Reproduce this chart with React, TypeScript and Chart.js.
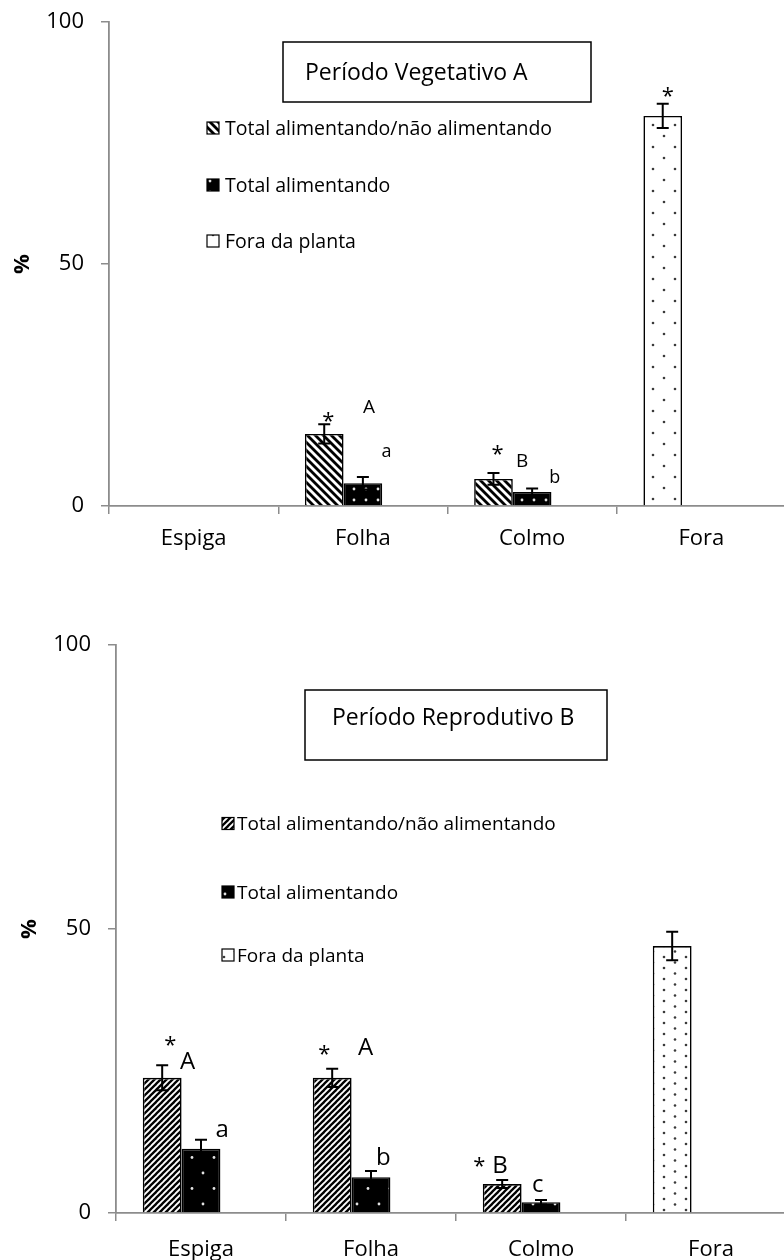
import React, { useEffect, useRef } from 'react';
import { Chart, registerables } from 'chart.js';

Chart.register(...registerables);

const FONT = "'Open Sans', 'DejaVu Sans', sans-serif";
const AXIS = '#8c8c8c';

// ---------- shared data ----------
const categories = ['Espiga', 'Folha', 'Colmo', 'Fora'];
const seriesLabels = ['Total alimentando/não alimentando', 'Total alimentando', 'Fora da planta'];
const yTickValues = [0, 50, 100];
const yAxisTitle = '%';

// ---------- Período Vegetativo A ----------
const vegTitle = 'Período Vegetativo A';
const vegTotal = [0, 14.9, 5.6, null];
const vegTotalErr = [0, 2.0, 1.2, null];
const vegFeeding = [0, 4.7, 2.9, null];
const vegFeedingErr = [0, 1.3, 0.7, null];
const vegOutside = [null, null, null, 80.6];
const vegOutsideErr = [null, null, null, 2.5];
const vegMarkText = ['*', 'A', 'a', '*', 'B', 'b', '*'];
const vegMarkCat = [1, 1, 1, 2, 2, 2, 3];
const vegMarkValue = [18.4, 20.5, 11.2, 11.6, 9.5, 6.3, 85.5];

// ---------- Período Reprodutivo B ----------
const repTitle = 'Período Reprodutivo B';
const repTotal = [23.8, 23.8, 5.1, null];
const repTotalErr = [2.2, 1.6, 0.7, null];
const repFeeding = [11.3, 6.3, 1.9, null];
const repFeedingErr = [1.6, 1.1, 0.4, null];
const repOutside = [null, null, null, 47.0];
const repOutsideErr = [null, null, null, 2.5];
const repMarkText = ['*', 'A', 'a', '*', 'A', 'b', '*', 'B', 'c'];
const repMarkCat = [0, 0, 0, 1, 1, 1, 2, 2, 2];
const repMarkValue = [30.3, 26.9, 14.6, 28.7, 29.4, 10.0, 9.0, 8.6, 4.9];

// ---------- styles (positions / sizes of decorations) ----------
const vegMarkStyle = [
  { slot: 0, dx: 4, size: 22 },
  { slot: 1, dx: 6, size: 19 },
  { slot: 1, dx: 23, size: 18 },
  { slot: 0, dx: 4, size: 22 },
  { slot: 0, dx: 29, size: 19 },
  { slot: 1, dx: 23, size: 18 },
  { slot: 0, dx: 5, size: 22 },
];
const repMarkStyle = [
  { slot: 0, dx: 8, size: 22 },
  { slot: 1, dx: -13, size: 24 },
  { slot: 1, dx: 21, size: 24 },
  { slot: 0, dx: -8, size: 22 },
  { slot: 1, dx: -5, size: 24 },
  { slot: 1, dx: 13, size: 24 },
  { slot: 0, dx: -23, size: 22 },
  { slot: 0, dx: -1.5, size: 24 },
  { slot: 1, dx: -3, size: 24 },
];

function makePattern(w: number, h: number, draw: (c: CanvasRenderingContext2D) => void) {
  const cv = document.createElement('canvas');
  cv.width = w;
  cv.height = h;
  const c = cv.getContext('2d')!;
  draw(c);
  return c.createPattern(cv, 'repeat')!;
}

function hatchPattern(period: number, width: number, back: boolean) {
  return makePattern(period, period, (c) => {
    c.fillStyle = '#fff';
    c.fillRect(0, 0, period, period);
    c.strokeStyle = '#000';
    c.lineWidth = width;
    c.lineCap = 'square';
    for (let k = -1; k <= 1; k++) {
      c.beginPath();
      if (back) {
        c.moveTo(k * period - 1, -1);
        c.lineTo(k * period + period + 1, period + 1);
      } else {
        c.moveTo(k * period - 1, period + 1);
        c.lineTo(k * period + period + 1, -1);
      }
      c.stroke();
    }
  });
}

function dotPattern(w: number, h: number, bg: string, fg: string, dots: number[][], r: number) {
  return makePattern(w, h, (c) => {
    c.fillStyle = bg;
    c.fillRect(0, 0, w, h);
    c.fillStyle = fg;
    dots.forEach(([x, y]) => {
      c.beginPath();
      c.arc(x, y, r, 0, Math.PI * 2);
      c.fill();
    });
  });
}

function drawCentered(ctx: CanvasRenderingContext2D, text: string, cx: number, cy: number, font: string) {
  ctx.font = font;
  ctx.textAlign = 'left';
  ctx.textBaseline = 'alphabetic';
  const m = ctx.measureText(text);
  const x = cx - (m.actualBoundingBoxRight - m.actualBoundingBoxLeft) / 2;
  const y = cy + (m.actualBoundingBoxAscent - m.actualBoundingBoxDescent) / 2;
  ctx.fillText(text, x, y);
}

function drawCapLeft(ctx: CanvasRenderingContext2D, text: string, x: number, cy: number, font: string) {
  ctx.font = font;
  ctx.textAlign = 'left';
  ctx.textBaseline = 'alphabetic';
  const cap = ctx.measureText('H').actualBoundingBoxAscent;
  ctx.fillText(text, x, cy + cap / 2);
}

type PanelCfg = {
  title: string;
  total: (number | null)[];
  totalErr: (number | null)[];
  feeding: (number | null)[];
  feedingErr: (number | null)[];
  outside: (number | null)[];
  outsideErr: (number | null)[];
  markText: string[];
  markCat: number[];
  markValue: number[];
  markStyle: { slot: number; dx: number; size: number }[];
  backHatch: boolean;
  hatchPeriod: number;
  hatchWidth: number;
  blackDots: { w: number; h: number; dots: number[][] };
  outDots: { w: number; h: number; dots: number[][] };
  padTop: number;
  xHeight: number;
  xPad: number;
  yWidth: number;
  box: { x: number; y: number; w: number; h: number; tx: number; ty: number };
  legend: { sx: number; tx: number; ys: number[]; size: number };
  yTitleOffset: number;
};

function buildChart(canvas: HTMLCanvasElement, cfg: PanelCfg) {
  const hatch = hatchPattern(cfg.hatchPeriod, cfg.hatchWidth, cfg.backHatch);
  const black = dotPattern(cfg.blackDots.w, cfg.blackDots.h, '#000', '#e2e2e2', cfg.blackDots.dots, 1.4);
  const outside = dotPattern(cfg.outDots.w, cfg.outDots.h, '#fff', '#3a3a3a', cfg.outDots.dots, 1.3);

  // The "Fora" bar occupies the first slot of its category, as in the original figure.
  const firstSlot = cfg.total.map((v, i) => (v == null ? cfg.outside[i] : v));
  const firstSlotErr = cfg.total.map((v, i) => (v == null ? cfg.outsideErr[i] : cfg.totalErr[i]));
  const firstSlotBg = cfg.total.map((v) => (v == null ? outside : hatch));
  const errors = [firstSlotErr, cfg.feedingErr, cfg.outside.map(() => null)];
  const legendIcons = [hatch, black, outside];

  const decor = {
    id: 'decor',
    afterDatasetsDraw(chart: any) {
      const ctx: CanvasRenderingContext2D = chart.ctx;
      const ys = chart.scales.y;
      ctx.save();
      // error bars
      errors.forEach((errs, di) => {
        const meta = chart.getDatasetMeta(di);
        meta.data.forEach((el: any, i: number) => {
          const v = chart.data.datasets[di].data[i];
          const e = errs[i];
          if (v == null || !e) return;
          const x = el.x;
          const yt = ys.getPixelForValue(v + e);
          const yb = ys.getPixelForValue(Math.max(0, v - e));
          ctx.strokeStyle = '#000';
          ctx.lineWidth = 2;
          ctx.beginPath();
          ctx.moveTo(x, yt);
          ctx.lineTo(x, yb);
          ctx.moveTo(x - 6, yt);
          ctx.lineTo(x + 6, yt);
          ctx.moveTo(x - 6, yb);
          ctx.lineTo(x + 6, yb);
          ctx.stroke();
        });
      });
      // significance marks
      ctx.fillStyle = '#000';
      cfg.markText.forEach((t, k) => {
        const st = cfg.markStyle[k];
        const el = chart.getDatasetMeta(st.slot).data[cfg.markCat[k]];
        const cx = el.x + st.dx;
        const cy = ys.getPixelForValue(cfg.markValue[k]);
        drawCentered(ctx, t, cx, cy, `${st.size}px ${FONT}`);
      });
      // title box
      const b = cfg.box;
      ctx.fillStyle = '#fff';
      ctx.fillRect(b.x, b.y, b.w, b.h);
      ctx.strokeStyle = '#000';
      ctx.lineWidth = 1.5;
      ctx.strokeRect(b.x, b.y, b.w, b.h);
      ctx.fillStyle = '#000';
      drawCapLeft(ctx, cfg.title, b.tx, b.ty, `23px ${FONT}`);
      // legend
      seriesLabels.forEach((lab, k) => {
        const cy = cfg.legend.ys[k];
        ctx.fillStyle = legendIcons[k];
        ctx.fillRect(cfg.legend.sx, cy - 6, 12, 12);
        ctx.strokeStyle = '#000';
        ctx.lineWidth = 1.2;
        ctx.strokeRect(cfg.legend.sx, cy - 6, 12, 12);
        ctx.fillStyle = '#000';
        drawCapLeft(ctx, lab, cfg.legend.tx, cy, `${cfg.legend.size}px ${FONT}`);
      });
      // y axis title
      const area = chart.chartArea;
      ctx.save();
      ctx.translate(area.left - cfg.yTitleOffset, ys.getPixelForValue(50));
      ctx.rotate(-Math.PI / 2);
      drawCentered(ctx, yAxisTitle, 0, 0, `bold 22px ${FONT}`);
      ctx.restore();
      ctx.restore();
    },
  };

  return new Chart(canvas, {
    type: 'bar',
    data: {
      labels: categories,
      datasets: [
        { label: seriesLabels[0], data: firstSlot as any, backgroundColor: firstSlotBg as any },
        { label: seriesLabels[1], data: cfg.feeding as any, backgroundColor: black as any },
        { label: seriesLabels[2], data: cfg.outside.map(() => null) as any, backgroundColor: outside as any },
      ],
    },
    options: {
      animation: false,
      responsive: false,
      maintainAspectRatio: false,
      devicePixelRatio: 1,
      layout: { padding: { top: cfg.padTop, left: 0, right: 0, bottom: 0 } },
      datasets: {
        bar: {
          categoryPercentage: 0.685,
          barPercentage: 1,
          borderColor: '#000',
          borderWidth: 1.6,
          borderSkipped: 'start',
        },
      },
      plugins: {
        legend: { display: false },
        tooltip: { enabled: false },
        title: { display: false },
      },
      scales: {
        x: {
          grid: { offset: true, drawOnChartArea: false, drawTicks: true, tickLength: 8, color: AXIS, lineWidth: 1.5 },
          border: { color: AXIS, width: 1.8 },
          ticks: { font: { family: FONT, size: 22 }, color: '#000', padding: cfg.xPad, maxRotation: 0 },
          afterFit: (s: any) => {
            s.height = cfg.xHeight;
            s.paddingLeft = 0;
            s.paddingRight = 0;
          },
        },
        y: {
          min: 0,
          max: 100,
          afterBuildTicks: (s: any) => {
            s.ticks = yTickValues.map((v) => ({ value: v }));
          },
          grid: { drawOnChartArea: false, drawTicks: true, tickLength: 8, color: AXIS, lineWidth: 1.5 },
          border: { color: AXIS, width: 1.8 },
          ticks: { font: { family: FONT, size: 22 }, color: '#000', padding: 17 },
          afterFit: (s: any) => {
            s.width = cfg.yWidth;
            s.paddingTop = 0;
            s.paddingBottom = 0;
          },
        },
      } as any,
    },
    plugins: [decor],
  });
}

const vegCfg: PanelCfg = {
  title: vegTitle,
  total: vegTotal,
  totalErr: vegTotalErr,
  feeding: vegFeeding,
  feedingErr: vegFeedingErr,
  outside: vegOutside,
  outsideErr: vegOutsideErr,
  markText: vegMarkText,
  markCat: vegMarkCat,
  markValue: vegMarkValue,
  markStyle: vegMarkStyle,
  backHatch: true,
  hatchPeriod: 8,
  hatchWidth: 2.8,
  blackDots: { w: 12, h: 11, dots: [[6, 5]] },
  outDots: { w: 22, h: 22, dots: [[4, 4], [15, 15]] },
  padTop: 22,
  xHeight: 74,
  xPad: 12,
  yWidth: 109,
  box: { x: 283, y: 42, w: 308, h: 60, tx: 305, ty: 71 },
  legend: { sx: 207, tx: 225, ys: [128, 185, 241], size: 19.5 },
  yTitleOffset: 88,
};

const repCfg: PanelCfg = {
  title: repTitle,
  total: repTotal,
  totalErr: repTotalErr,
  feeding: repFeeding,
  feedingErr: repFeedingErr,
  outside: repOutside,
  outsideErr: repOutsideErr,
  markText: repMarkText,
  markCat: repMarkCat,
  markValue: repMarkValue,
  markStyle: repMarkStyle,
  backHatch: false,
  hatchPeriod: 6,
  hatchWidth: 2.3,
  blackDots: { w: 22, h: 31, dots: [[5, 4], [16, 19.5]] },
  outDots: { w: 22, h: 11, dots: [[4, 3], [15, 8.5]] },
  padTop: 65,
  xHeight: 47,
  xPad: 16,
  yWidth: 116,
  box: { x: 305, y: 110, w: 302, h: 70, tx: 332, ty: 136 },
  legend: { sx: 222, tx: 237, ys: [243.5, 312, 375], size: 19 },
  yTitleOffset: 88,
};

export default function App() {
  const topRef = useRef<HTMLCanvasElement>(null);
  const botRef = useRef<HTMLCanvasElement>(null);

  useEffect(() => {
    document.body.style.margin = '0';
    const a = buildChart(topRef.current!, vegCfg);
    const b = buildChart(botRef.current!, repCfg);
    return () => {
      a.destroy();
      b.destroy();
    };
  }, []);

  return (
    <div style={{ position: 'relative', width: 784, height: 1260, overflow: 'hidden', background: '#fff' }}>
      <canvas ref={topRef} width={786} height={580} style={{ position: 'absolute', left: 0, top: 0 }} />
      <canvas ref={botRef} width={796} height={680} style={{ position: 'absolute', left: 0, top: 580 }} />
    </div>
  );
}
